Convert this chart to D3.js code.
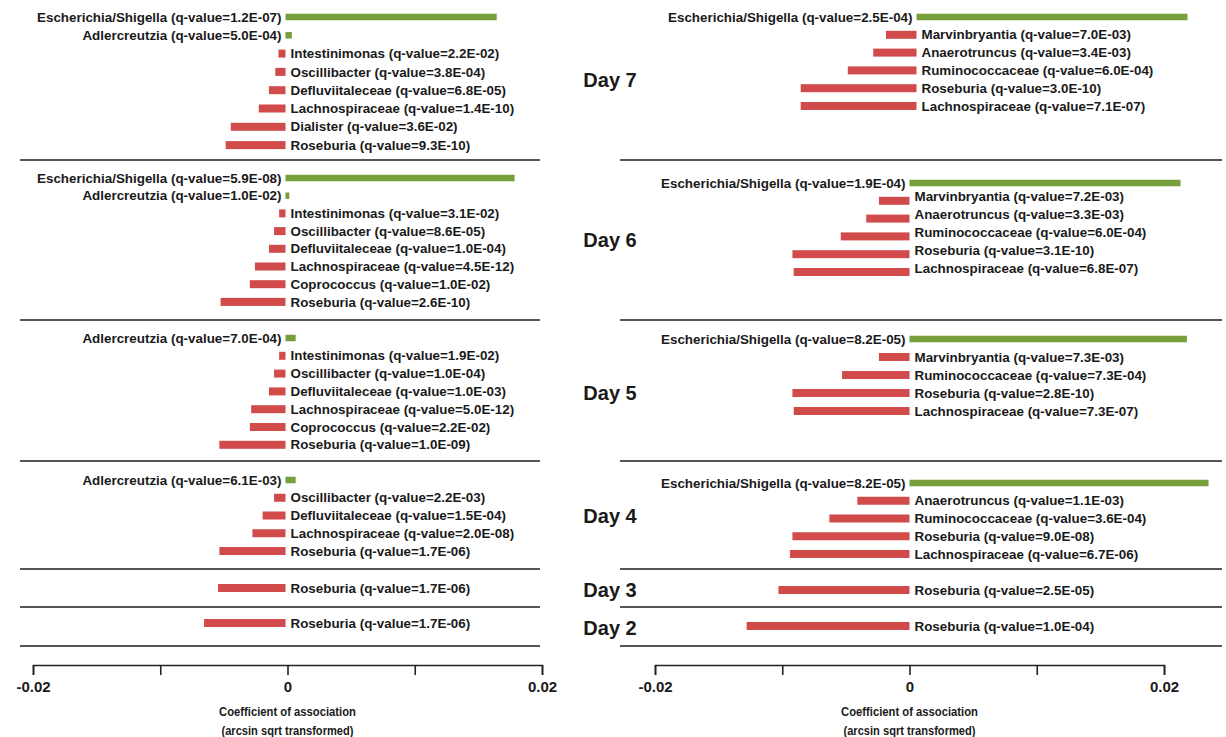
<!DOCTYPE html>
<html>
<head>
<meta charset="utf-8">
<script src="https://cdn.jsdelivr.net/npm/d3@7"></script>
<style>
  html, body { margin: 0; padding: 0; background: #fff; }
  svg { display: block; }
  text { font-family: "Liberation Sans", Arial, sans-serif; fill: #1a1a1a; }
</style>
</head>
<body>
<svg id="chart" width="1226" height="737"></svg>
<script>
// ---------------- DATA ----------------
// [taxon, q-value label, coefficient]
const leftDay7 = [
  ["Escherichia/Shigella", "1.2E-07", 0.0166],
  ["Adlercreutzia", "5.0E-04", 0.0005],
  ["Intestinimonas", "2.2E-02", -0.00055],
  ["Oscillibacter", "3.8E-04", -0.0008],
  ["Defluviitaleceae", "6.8E-05", -0.0013],
  ["Lachnospiraceae", "1.4E-10", -0.0021],
  ["Dialister", "3.6E-02", -0.0043],
  ["Roseburia", "9.3E-10", -0.0047]
];
const leftDay6 = [
  ["Escherichia/Shigella", "5.9E-08", 0.0180],
  ["Adlercreutzia", "1.0E-02", 0.0003],
  ["Intestinimonas", "3.1E-02", -0.0005],
  ["Oscillibacter", "8.6E-05", -0.0009],
  ["Defluviitaleceae", "1.0E-04", -0.0013],
  ["Lachnospiraceae", "4.5E-12", -0.0024],
  ["Coprococcus", "1.0E-02", -0.0028],
  ["Roseburia", "2.6E-10", -0.0051]
];
const leftDay5 = [
  ["Adlercreutzia", "7.0E-04", 0.0008],
  ["Intestinimonas", "1.9E-02", -0.0005],
  ["Oscillibacter", "1.0E-04", -0.0009],
  ["Defluviitaleceae", "1.0E-03", -0.0013],
  ["Lachnospiraceae", "5.0E-12", -0.0027],
  ["Coprococcus", "2.2E-02", -0.0028],
  ["Roseburia", "1.0E-09", -0.0052]
];
const leftDay4 = [
  ["Adlercreutzia", "6.1E-03", 0.0008],
  ["Oscillibacter", "2.2E-03", -0.0009],
  ["Defluviitaleceae", "1.5E-04", -0.0018],
  ["Lachnospiraceae", "2.0E-08", -0.0026],
  ["Roseburia", "1.7E-06", -0.0052]
];
const leftDay3 = [["Roseburia", "1.7E-06", -0.0053]];
const leftDay2 = [["Roseburia", "1.7E-06", -0.0064]];

const rightDay7 = [
  ["Escherichia/Shigella", "2.5E-04", 0.0213],
  ["Marvinbryantia", "7.0E-03", -0.0024],
  ["Anaerotruncus", "3.4E-03", -0.0034],
  ["Ruminococcaceae", "6.0E-04", -0.0054],
  ["Roseburia", "3.0E-10", -0.0091],
  ["Lachnospiraceae", "7.1E-07", -0.0091]
];
const rightDay6 = [
  ["Escherichia/Shigella", "1.9E-04", 0.0213],
  ["Marvinbryantia", "7.2E-03", -0.0024],
  ["Anaerotruncus", "3.3E-03", -0.0034],
  ["Ruminococcaceae", "6.0E-04", -0.0054],
  ["Roseburia", "3.1E-10", -0.0092],
  ["Lachnospiraceae", "6.8E-07", -0.0091]
];
const rightDay5 = [
  ["Escherichia/Shigella", "8.2E-05", 0.0218],
  ["Marvinbryantia", "7.3E-03", -0.0024],
  ["Ruminococcaceae", "7.3E-04", -0.0053],
  ["Roseburia", "2.8E-10", -0.0092],
  ["Lachnospiraceae", "7.3E-07", -0.0091]
];
const rightDay4 = [
  ["Escherichia/Shigella", "8.2E-05", 0.0235],
  ["Anaerotruncus", "1.1E-03", -0.0041],
  ["Ruminococcaceae", "3.6E-04", -0.0063],
  ["Roseburia", "9.0E-08", -0.0092],
  ["Lachnospiraceae", "6.7E-06", -0.0094]
];
const rightDay3 = [["Roseburia", "2.5E-05", -0.0103]];
const rightDay2 = [["Roseburia", "1.0E-04", -0.0128]];

const dayLabels = ["Day 7", "Day 6", "Day 5", "Day 4", "Day 3", "Day 2"];
const tickValues = [-0.02, -0.01, 0, 0.01, 0.02];
const tickLabels = ["-0.02", "", "0", "", "0.02"];
const axisTitle = ["Coefficient of association", "(arcsin sqrt transformed)"];

// ---------------- LAYOUT ----------------
const svg = d3.select("#chart");
const GREEN = "#77A03A", RED = "#D24B4B";

const xL = d3.scaleLinear().domain([-0.02, 0.02]).range([33, 542]);
const xR = d3.scaleLinear().domain([-0.02, 0.02]).range([655, 1164]);

const sepY = [160, 320, 461, 569, 607, 646];

const leftSections = [
  { data: leftDay7, y0: 17, step: 18.3, dx: -2, ly: 0 },
  { data: leftDay6, y0: 178, step: 17.7, dx: -2, ly: 0 },
  { data: leftDay5, y0: 338, step: 17.8, dx: -2, ly: 0 },
  { data: leftDay4, y0: 480, step: 17.75, dx: -2, ly: 0 },
  { data: leftDay3, y0: 588, step: 18, dx: -2, ly: 0 },
  { data: leftDay2, y0: 623, step: 18, dx: -2, ly: 0 }
];
const rightSections = [
  { data: rightDay7, y0: 17, step: 17.8, dx: 7, ly: 0 },
  { data: rightDay6, y0: 183, step: 17.8, dx: 0, ly: -4 },
  { data: rightDay5, y0: 339, step: 18, dx: 0, ly: 0 },
  { data: rightDay4, y0: 483, step: 17.75, dx: 0, ly: 0 },
  { data: rightDay3, y0: 590, step: 18, dx: 0, ly: 0 },
  { data: rightDay2, y0: 626, step: 18, dx: 0, ly: 0 }
];

function drawPanel(sections, x, sepX0, sepX1) {
  const g = svg.append("g");
  g.selectAll("line.sep").data(sepY).join("line")
    .attr("class", "sep")
    .attr("x1", sepX0).attr("x2", sepX1)
    .attr("y1", d => d).attr("y2", d => d)
    .attr("stroke", "#555").attr("stroke-width", 1.8);

  sections.forEach(sec => {
    const sg = g.append("g").attr("transform", `translate(${sec.dx},0)`);
    const rows = sec.data.map((d, i) => ({ taxon: d[0], q: d[1], v: d[2], y: sec.y0 + i * sec.step }));
    sg.selectAll("rect").data(rows).join("rect")
      .attr("x", d => Math.min(x(0), x(d.v)))
      .attr("width", d => Math.abs(x(d.v) - x(0)))
      .attr("y", d => d.y - (d.v > 0 ? 3.25 : 4))
      .attr("height", d => d.v > 0 ? 6.5 : 8)
      .attr("fill", d => d.v > 0 ? GREEN : RED);
    sg.selectAll("text").data(rows).join("text")
      .attr("x", d => d.v > 0 ? x(0) - 4 : x(0) + 5)
      .attr("y", (d, i) => d.y + (i > 0 ? sec.ly : 0))
      .attr("dy", "0.35em")
      .attr("text-anchor", d => d.v > 0 ? "end" : "start")
      .attr("font-size", 13.4)
      .attr("font-weight", "bold")
      .text(d => `${d.taxon} (q-value=${d.q})`);
  });

  const axis = d3.axisBottom(x).tickValues(tickValues).tickSize(10)
    .tickFormat((d, i) => tickLabels[i]);
  const ag = g.append("g").attr("transform", "translate(0,665)").call(axis);
  ag.select(".domain").attr("stroke", "#222").attr("stroke-width", 1.6);
  ag.selectAll(".tick line").attr("stroke", "#222").attr("stroke-width", 1.6);
  ag.selectAll(".tick text")
    .attr("font-size", 15).attr("font-weight", "bold")
    .attr("font-family", "'Liberation Sans', Arial, sans-serif")
    .attr("fill", "#1a1a1a").attr("dy", "0.95em");

  g.selectAll("text.title").data(axisTitle).join("text")
    .attr("class", "title")
    .attr("x", x(0)).attr("y", (d, i) => 716 + i * 19)
    .attr("text-anchor", "middle")
    .attr("font-size", 13.5).attr("font-weight", "bold")
    .attr("textLength", (d, i) => i === 0 ? 137 : 132)
    .attr("lengthAdjust", "spacingAndGlyphs")
    .text(d => d);
}

drawPanel(leftSections, xL, 20, 540);
drawPanel(rightSections, xR, 620, 1222);

const dayY = [80, 240, 393, 516, 590, 628];
svg.selectAll("text.day").data(dayLabels).join("text")
  .attr("class", "day")
  .attr("x", 610).attr("y", (d, i) => dayY[i])
  .attr("dy", "0.35em")
  .attr("text-anchor", "middle")
  .attr("font-size", 20).attr("font-weight", "bold")
  .text(d => d);
</script>
</body>
</html>
